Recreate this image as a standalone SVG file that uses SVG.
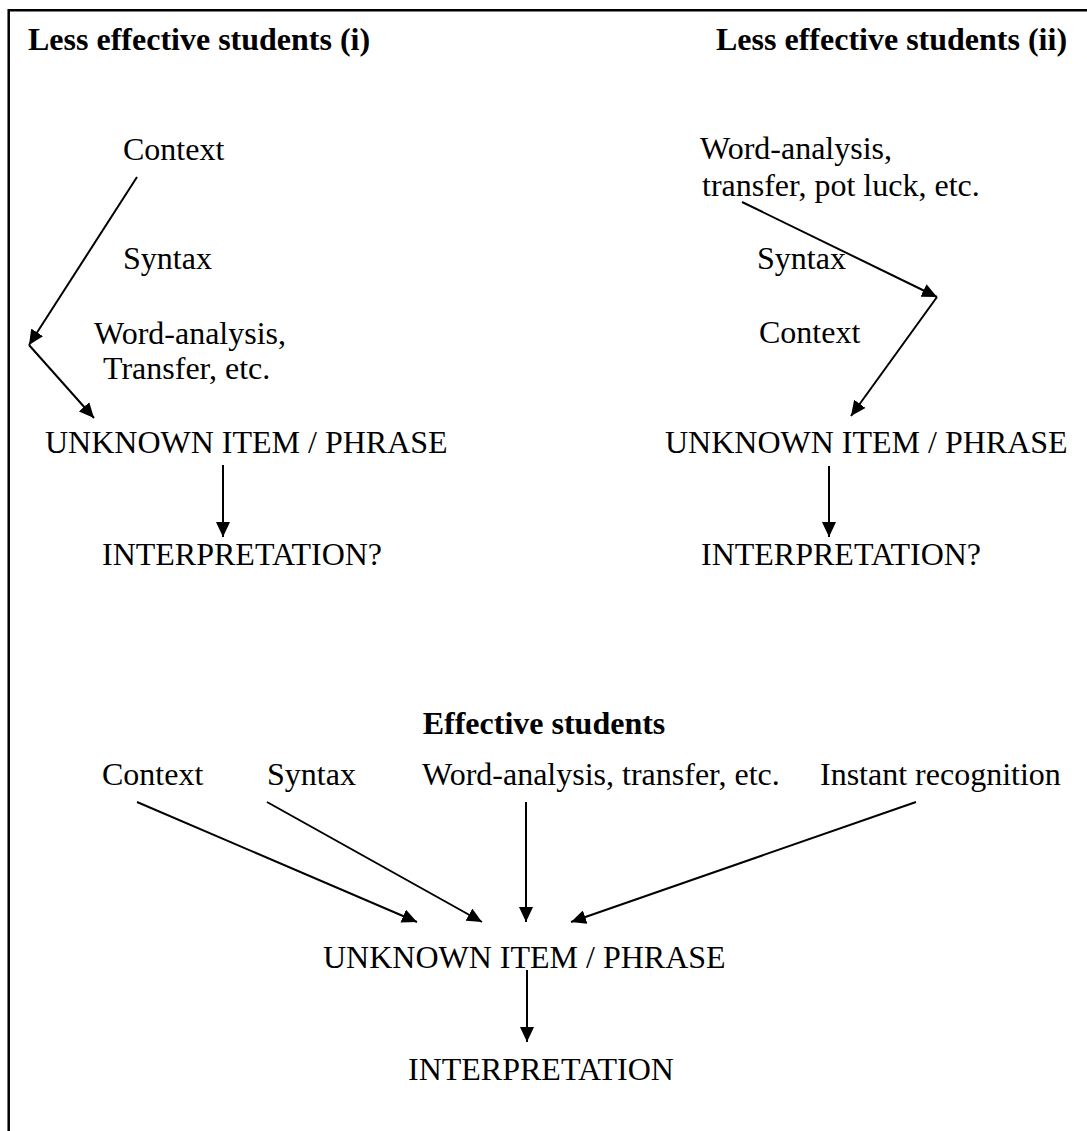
<svg xmlns="http://www.w3.org/2000/svg" width="1087" height="1131" viewBox="0 0 1087 1131">
<style>
text{font-family:"Liberation Serif","Times New Roman",serif;font-size:32px;fill:#000}
.b{font-weight:bold}
.c{stroke:#000;stroke-width:2;fill:none}
</style>
<defs>
<marker id="ah" markerUnits="userSpaceOnUse" markerWidth="16" markerHeight="14" refX="15" refY="7" orient="auto">
<path d="M0,0 L15,7 L0,14 z" fill="#000"/>
</marker>
</defs>
<rect width="1087" height="1131" fill="#fff"/>
<path d="M8.7,1131 V10.3 H1087" fill="none" stroke="#000" stroke-width="2.5"/>
<g id="title-i"><text class="b" x="28" y="50">Less effective students (i)</text></g>
<g id="title-ii"><text class="b" x="716" y="50">Less effective students (ii)</text></g>
<g id="l-context"><text x="123" y="160">Context</text></g>
<g id="l-syntax"><text x="123" y="269">Syntax</text></g>
<g id="l-word"><text x="94" y="344">Word-analysis,</text><text x="103" y="379">Transfer, etc.</text></g>
<g id="l-unknown"><text x="45" y="453">UNKNOWN ITEM / PHRASE</text></g>
<g id="l-interp"><text x="102" y="565">INTERPRETATION?</text></g>
<g id="r-word"><text x="700" y="159">Word-analysis,</text><text x="702" y="196">transfer, pot luck, etc.</text></g>
<g id="r-syntax"><text x="757" y="269">Syntax</text></g>
<g id="r-context"><text x="759" y="343">Context</text></g>
<g id="r-unknown"><text x="665" y="453">UNKNOWN ITEM / PHRASE</text></g>
<g id="r-interp"><text x="701" y="565">INTERPRETATION?</text></g>
<g id="title-eff"><text class="b" x="544" y="734" text-anchor="middle">Effective students</text></g>
<g id="b-context"><text x="102" y="785">Context</text></g>
<g id="b-syntax"><text x="267" y="785">Syntax</text></g>
<g id="b-word"><text x="422" y="785">Word-analysis, transfer, etc.</text></g>
<g id="b-instant"><text x="820" y="785">Instant recognition</text></g>
<g id="b-unknown"><text x="323" y="968">UNKNOWN ITEM / PHRASE</text></g>
<g id="b-interp"><text x="408" y="1080">INTERPRETATION</text></g>
<g id="connectors">
<line class="c" x1="137" y1="177" x2="29" y2="345" marker-end="url(#ah)"/>
<line class="c" x1="29" y1="345" x2="94" y2="418" marker-end="url(#ah)"/>
<line class="c" x1="223" y1="465" x2="223" y2="537" marker-end="url(#ah)"/>
<line class="c" x1="742" y1="202" x2="937" y2="297" marker-end="url(#ah)"/>
<line class="c" x1="937" y1="297" x2="851" y2="416" marker-end="url(#ah)"/>
<line class="c" x1="829" y1="466" x2="829" y2="537" marker-end="url(#ah)"/>
<line class="c" x1="137" y1="802" x2="417" y2="922" marker-end="url(#ah)"/>
<line class="c" x1="267" y1="802" x2="482" y2="922" marker-end="url(#ah)"/>
<line class="c" x1="526" y1="802" x2="526" y2="922" marker-end="url(#ah)"/>
<line class="c" x1="916" y1="802" x2="571" y2="922" marker-end="url(#ah)"/>
<line class="c" x1="527" y1="970" x2="527" y2="1042" marker-end="url(#ah)"/>
</g>
</svg>
